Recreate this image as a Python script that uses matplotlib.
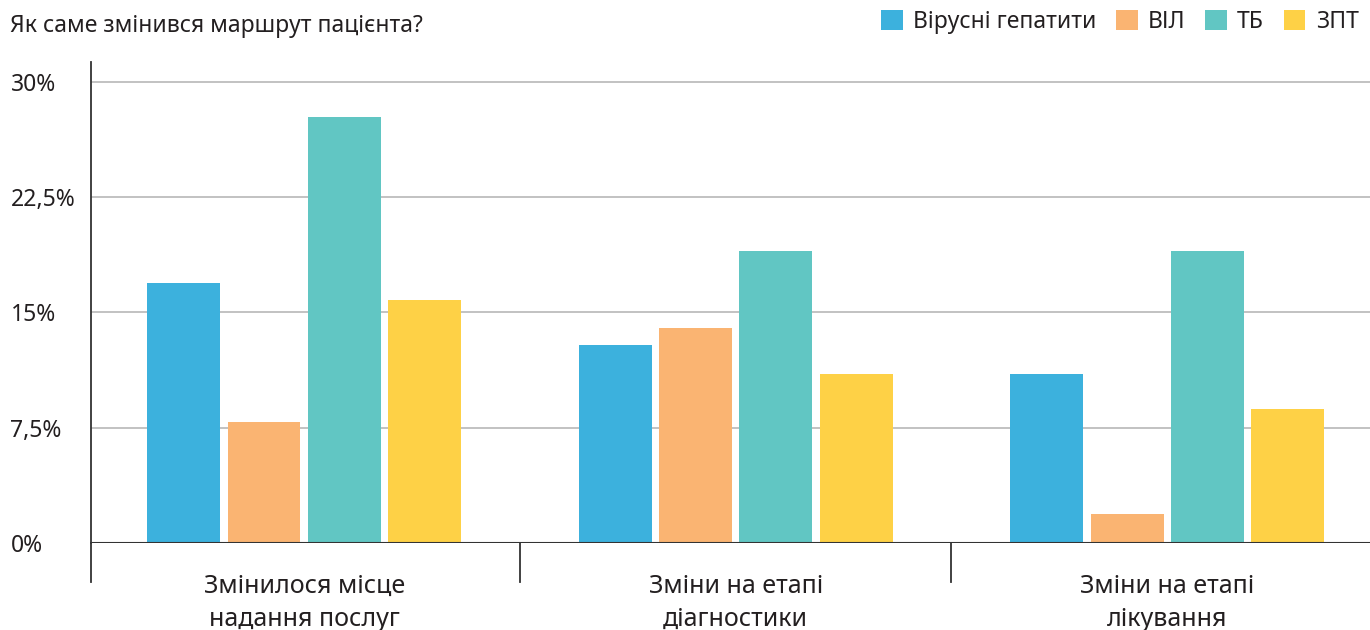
import matplotlib.pyplot as plt
from matplotlib.patches import Patch
import numpy as np

# data
groups = ['Змінилося місце\nнадання послуг', 'Зміни на етапі\nдіагностики', 'Зміни на етапі\nлікування']
series = ['Вірусні гепатити', 'ВІЛ', 'ТБ', 'ЗПТ']
hepatitis = [16.9, 12.9, 11.0]
hiv = [7.9, 14.0, 1.9]
tb = [27.7, 19.0, 19.0]
ost = [15.8, 11.0, 8.7]
yticks = [0, 7.5, 15, 22.5, 30]
ytick_labels = ['0%', '7,5%', '15%', '22,5%', '30%']

colors = ['#3cb1dd', '#fab472', '#61c6c3', '#fed146']
txt = '#231f20'


def main():
    plt.rcParams['font.family'] = ['Noto Sans', 'DejaVu Sans']
    fig = plt.figure(figsize=(13.7, 6.3), dpi=100)
    ax = fig.add_axes([91 / 1370, 1 - 543 / 630, 1 - 91 / 1370, 481 / 630])

    x = np.arange(len(groups))
    width = 0.169
    step = 0.186
    values = [hepatitis, hiv, tb, ost]
    for i, vals in enumerate(values):
        ax.bar(x + (i - 1.5) * step, vals, width, color=colors[i], zorder=3)

    ax.set_xlim(-0.494, 2.47)
    ax.set_ylim(0, 31.3)

    # grid
    for t in yticks[1:]:
        ax.axhline(t, color='#c2c2c2', linewidth=1.4, zorder=1)

    for s in ['top', 'right', 'bottom']:
        ax.spines[s].set_visible(False)
    ax.spines['left'].set_color('#333333')
    ax.spines['left'].set_linewidth(1.3)
    ax.axhline(0, color='#333333', linewidth=1.5, zorder=4)

    # left spine goes under the axis, plus the group separators
    trans = ax.get_xaxis_transform()
    ax.plot([-0.494, -0.494], [0, -0.081], transform=trans, color='#333333',
            linewidth=1.3, clip_on=False)
    for sep in [0.5, 1.5]:
        ax.plot([sep, sep], [0, -0.081], transform=trans, color='#333333',
                linewidth=1.3, clip_on=False)

    ax.set_yticks(yticks)
    ax.set_yticklabels(ytick_labels, fontsize=16.5, color=txt, ha='left')
    ax.tick_params(axis='y', length=0, pad=58)
    ax.set_xticks(x)
    ax.set_xticklabels(groups, fontsize=18, color=txt, linespacing=1.45)
    ax.tick_params(axis='x', length=0, pad=22)

    fig.text(10 / 1370, 1 - 26 / 630, 'Як саме змінився маршрут пацієнта?',
             fontsize=16.5, color=txt, va='center', ha='left')

    handles = [Patch(facecolor=c, edgecolor='none') for c in colors]
    fig.legend(handles, series, loc='center right', bbox_to_anchor=(1.0, 1 - 22 / 630),
               ncol=4, frameon=False, fontsize=16.5, handlelength=0.95, handleheight=0.95,
               handletextpad=0.45, columnspacing=0.85, labelcolor=txt, borderaxespad=0.1)

    fig.savefig('out.png', dpi=100)


if __name__ == '__main__':
    main()
